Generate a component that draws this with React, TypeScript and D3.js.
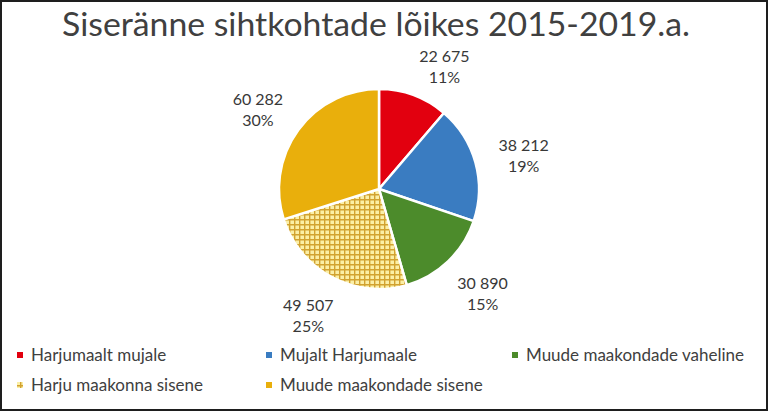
import { useEffect, useRef } from 'react';
import * as d3 from 'd3';

const TITLE = 'Siseränne sihtkohtade lõikes 2015-2019.a.';
const categories = [
  'Harjumaalt mujale',
  'Mujalt Harjumaale',
  'Muude maakondade vaheline',
  'Harju maakonna sisene',
  'Muude maakondade sisene',
];
const values = [22675, 38212, 30890, 49507, 60282];
const percentLabels = ['11%', '19%', '15%', '25%', '30%'];
const colors = ['#e2000f', '#3a7cc1', '#4c8b2b', 'url(#grid)', '#e9af0c'];
const legendOrder = [[0, 1, 2], [3, 4]];

const fmt = (v: number) => d3.format(',')(v).replace(/,/g, ' ');

export default function App() {
  const svgRef = useRef<SVGSVGElement>(null);

  useEffect(() => {
    if (!svgRef.current) return;
    const W = 768;
    const H = 411;
    const cx = 379;
    const cy = 189;
    const R = 100;

    const svg = d3.select(svgRef.current).attr('width', W).attr('height', H);
    svg.selectAll('*').remove();

    // hatched fill for "Harju maakonna sisene"
    const defs = svg.append('defs');
    const pat = defs.append('pattern').attr('id', 'grid')
      .attr('patternUnits', 'userSpaceOnUse').attr('width', 5).attr('height', 5);
    pat.append('rect').attr('width', 5).attr('height', 5).attr('fill', '#fbefa6');
    pat.append('path').attr('d', 'M0,0.7H5M0.7,0V5')
      .attr('stroke', '#d2a230').attr('stroke-width', 1.4).attr('fill', 'none');

    svg.append('rect').attr('x', 1).attr('y', 1).attr('width', W - 2).attr('height', H - 2)
      .attr('fill', '#fff').attr('stroke', '#1e1e1e').attr('stroke-width', 2);

    svg.append('text').attr('x', 62).attr('y', 36)
      .attr('textLength', 628).attr('lengthAdjust', 'spacingAndGlyphs')
      .style('font-family', 'Lato, sans-serif').style('font-size', '33px').style('fill', '#404040')
      .text(TITLE);

    const pie = d3.pie<number>().sort(null).value(d => d);
    const arcs = pie(values);
    const arc = d3.arc<d3.PieArcDatum<number>>().innerRadius(0).outerRadius(R);

    const g = svg.append('g').attr('transform', `translate(${cx},${cy})`);
    g.selectAll('path').data(arcs).enter().append('path')
      .attr('d', arc)
      .attr('fill', (_, i) => colors[i])
      .attr('stroke', '#fff').attr('stroke-width', 2.5).attr('stroke-linejoin', 'round');

    // data labels outside end, on an ellipse round the pie; slid along it when they hit the title
    const Rx = R + 50;
    const Ry = R + 40;
    const dy = 5;
    const minY = 68 - cy;
    arcs.forEach((a, i) => {
      const mid = (a.startAngle + a.endAngle) / 2;
      let s = Math.sin(mid);
      let c = Math.cos(mid);
      if (-c * Ry + dy < minY) {
        c = -(minY - dy) / Ry;
        s = Math.sign(s) * Math.sqrt(1 - c * c);
      }
      const lx = s * Rx;
      const ly = -c * Ry + dy;
      const t = g.append('text').attr('text-anchor', 'middle')
        .style('font-family', 'Lato, sans-serif').style('font-size', '16px').style('fill', '#383838');
      t.append('tspan').attr('x', lx).attr('y', ly - 6).text(fmt(values[i]));
      t.append('tspan').attr('x', lx).attr('y', ly + 15).text(percentLabels[i]);
    });

    // legend
    const colX = d3.scaleOrdinal<number, number>().domain([0, 1, 2]).range([17, 266, 512]);
    const rowY = d3.scaleOrdinal<number, number>().domain([0, 1]).range([355, 385]);
    legendOrder.forEach((row, ri) => {
      row.forEach((ci, k) => {
        const x = colX(k);
        const y = rowY(ri);
        svg.append('rect').attr('x', x).attr('y', y - 3).attr('width', 6).attr('height', 6)
          .attr('fill', colors[ci]);
        svg.append('text').attr('x', x + 14).attr('y', y + 5.5)
          .style('font-family', 'Lato, sans-serif').style('font-size', '17px').style('fill', '#404040')
          .text(categories[ci]);
      });
    });
  }, []);

  return <svg ref={svgRef} style={{ position: 'absolute', left: 0, top: 0 }} />;
}
